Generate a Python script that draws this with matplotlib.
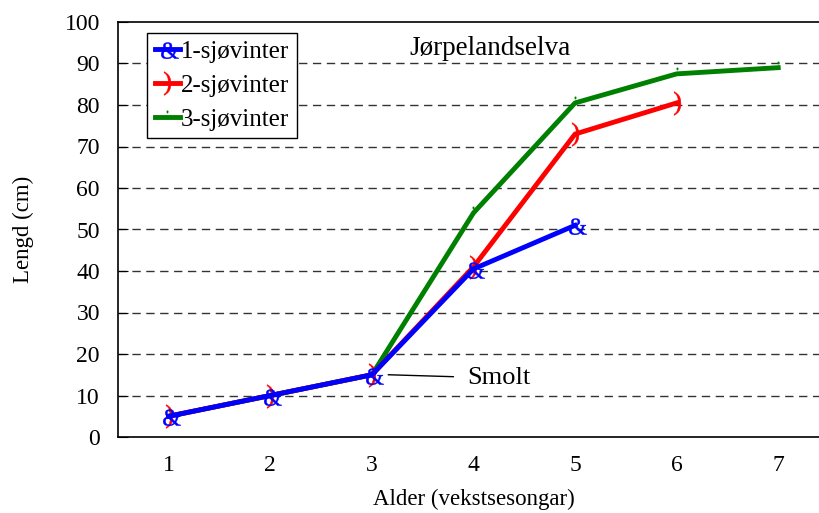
import numpy as np
import matplotlib
matplotlib.use("Agg")
import matplotlib.pyplot as plt
from matplotlib.textpath import TextPath
from matplotlib.font_manager import FontProperties
from matplotlib.path import Path

plt.rcParams['font.family'] = ['Liberation Serif', 'DejaVu Serif']

# data
alder = [1, 2, 3, 4, 5, 6, 7]
sv1 = [5, 10, 15, 40.5, 51]
sv2 = [5, 10, 15, 41, 73, 80.5]
sv3 = [5, 10, 15, 54, 80.5, 87.5, 89]
labels = ["1-sjøvinter", "2-sjøvinter", "3-sjøvinter"]


def glyph_marker(ch, dx=0.0, dy=0.0):
    # character shape used as a marker (Excel symbol-font look)
    tp = TextPath((0, 0), ch, size=1, prop=FontProperties(family='Liberation Serif'))
    v = tp.vertices.copy()
    ext = tp.get_extents()
    v[:, 0] -= (ext.x0 + ext.x1) / 2 - dx
    v[:, 1] -= (ext.y0 + ext.y1) / 2 - dy
    return Path(v, tp.codes)


fig = plt.figure(figsize=(8.2, 5.13), dpi=100)
# axes run past the right edge like in the source image
ax = fig.add_axes([118/820, 1 - 437/513, (829 - 118)/820, (437 - 22)/513])

ax.plot(alder[:len(sv3)], sv3, color="#008000", lw=3.5,
        marker=glyph_marker("'", dy=0.9), ms=9, label=labels[2], zorder=3)
ax.plot(alder[:len(sv2)], sv2, color="#ff0000", lw=3.5,
        marker=glyph_marker(")"), ms=17, mew=0.4, label=labels[1], zorder=4)
ax.plot(alder[:len(sv1)], sv1, color="#0000ff", lw=3.5,
        marker=glyph_marker("&", dx=0.1, dy=-0.05), ms=16, mew=0.3,
        label=labels[0], zorder=5)

ax.set_xlim(0.5, 7.5)
ax.set_ylim(0, 100)
ax.set_xticks(alder)
ax.set_yticks(np.arange(0, 101, 10))
ax.tick_params(axis='x', length=0, labelsize=17, pad=13)
ax.tick_params(axis='y', direction='in', length=7, labelsize=17, pad=13)
for y in range(10, 100, 10):
    ax.axhline(y, color="#333333", lw=1, ls=(0, (6, 4)), zorder=1)

ax.spines['right'].set_visible(False)
for s in ['left', 'bottom', 'top']:
    ax.spines[s].set_linewidth(1.2)

ax.set_xlabel("Alder (vekstsesongar)", fontsize=16.5, labelpad=9)
ax.set_ylabel("Lengd (cm)", fontsize=16.5, labelpad=22)

ax.text(3.37, 93.7, "Jørpelandselva", fontsize=19.5, ha='left', va='center')
ax.annotate("Smolt", xy=(3.16, 15), xytext=(3.94, 14.2),
            fontsize=19, va='center', ha='left',
            arrowprops=dict(arrowstyle='-', color='black', lw=1,
                            shrinkA=8, shrinkB=0))

# legend order 1,2,3
h, l = ax.get_legend_handles_labels()
order = [2, 1, 0]
leg = ax.legend([h[i] for i in order], [l[i] for i in order], loc='upper left',
                bbox_to_anchor=(0.041, 0.973), fontsize=18, fancybox=False,
                framealpha=1, edgecolor='black', handlelength=1.0,
                handletextpad=0.05, borderpad=0.3, labelspacing=0.45,
                borderaxespad=0)
leg.get_frame().set_linewidth(1)

fig.savefig("out.png", dpi=100)
